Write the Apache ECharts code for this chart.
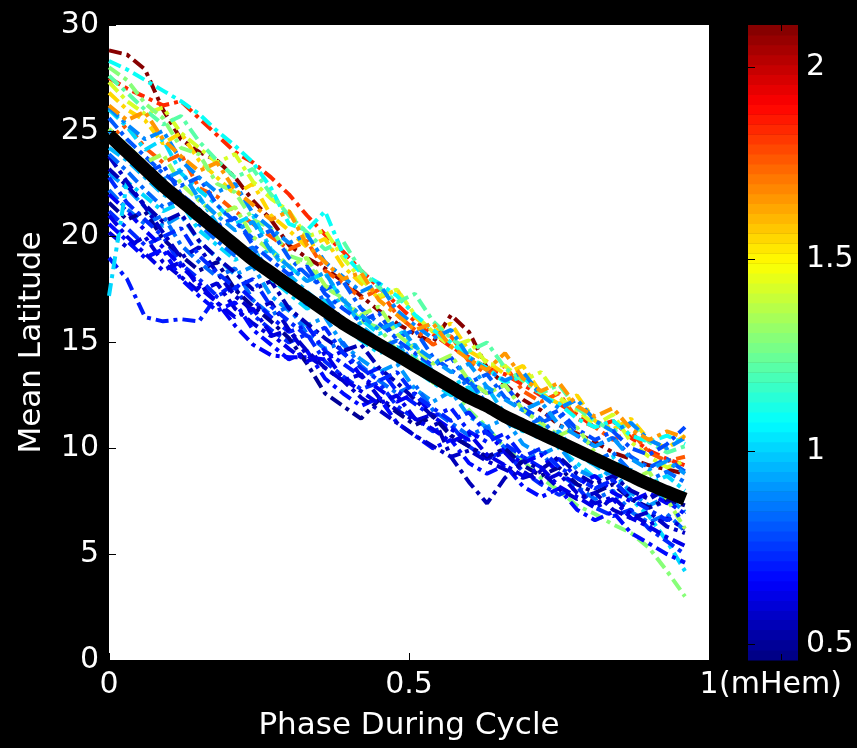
<!DOCTYPE html>
<html>
<head>
<meta charset="utf-8">
<title>Mean Latitude vs Phase During Cycle</title>
<script src="https://cdn.jsdelivr.net/npm/echarts@6/dist/echarts.min.js"></script>
<style>
  html, body { margin: 0; padding: 0; background: #000; }
  #chart { width: 857px; height: 748px; }
</style>
</head>
<body>
<div id="chart"></div>
<script>
const FONT = "DejaVu Sans";

// phase of the cycle (shared x for every curve)
const phase = [0, 0.03, 0.06, 0.09, 0.12, 0.15, 0.18, 0.21, 0.24, 0.27, 0.30,
  0.33, 0.36, 0.39, 0.42, 0.45, 0.48, 0.51, 0.54, 0.57, 0.60, 0.63,
  0.66, 0.69, 0.72, 0.75, 0.78, 0.81, 0.84, 0.87, 0.90, 0.93, 0.96];

// black fitted curve
const fitLat = [24.8, 24.0, 23.2, 22.4, 21.7, 21.0, 20.3, 19.6, 18.9, 18.3, 17.7,
  17.1, 16.5, 15.9, 15.4, 14.9, 14.4, 13.9, 13.4, 12.9, 12.4, 12.0,
  11.5, 11.1, 10.7, 10.3, 9.9, 9.5, 9.1, 8.7, 8.3, 7.95, 7.6];

// cycle amplitudes (mHem), one per curve below
const cycleAmp = [2.10, 1.85, 1.75, 1.55, 1.42, 1.30, 1.10, 1.02, 1.22, 0.95,
  0.90, 0.84, 0.80, 0.74, 0.70, 0.64, 0.60, 0.55, 0.50, 0.88,
  1.00, 0.78, 1.65, 0.68, 1.35, 0.58, 0.92, 0.72, 0.82, 0.62];

const cyc01 = [28.8, 28.6, 27.9, 26.0, 24.6, 24.0, 23.6, 22.8, 21.7, 20.8, 19.6,
  19.0, 18.5, 17.9, 17.2, 16.5, 15.9, 15.4, 15.0, 16.3, 15.5, 13.8,
  13.0, 12.3, 11.8, 11.1, 10.7, 10.3, 9.8, 9.5, 9.2, 9.0, 8.8];
const cyc02 = [27.5, 27.0, 26.6, 26.2, 26.4, 25.6, 24.8, 24.0, 23.5, 22.8, 22.0,
  21.0, 20.1, 19.3, 18.4, 17.6, 16.8, 16.0, 15.4, 14.8, 14.3, 13.8,
  13.5, 13.0, 12.5, 12.1, 11.6, 11.0, 11.3, 10.5, 9.9, 9.5, 9.2];
const cyc03 = [24.6, 25.3, 24.2, 23.5, 23.9, 22.3, 21.9, 21.2, 20.6, 20.0, 19.4,
  19.8, 18.4, 17.8, 17.1, 17.5, 16.3, 15.6, 14.9, 15.3, 14.1, 13.5,
  13.9, 12.7, 12.2, 12.6, 11.4, 11.0, 10.4, 10.8, 9.8, 9.4, 9.6];
const cyc04 = [26.8, 26.0, 25.5, 24.4, 24.9, 23.6, 22.8, 22.0, 22.5, 21.0, 20.3,
  19.5, 19.9, 18.6, 17.8, 17.1, 17.5, 16.2, 15.5, 15.9, 14.6, 14.1,
  13.5, 13.9, 12.6, 12.1, 12.5, 11.3, 10.9, 11.4, 10.4, 10.0, 10.6];
const cyc05 = [27.3, 26.4, 25.8, 26.1, 24.9, 24.2, 23.5, 23.9, 22.6, 21.8, 21.2,
  20.0, 20.3, 19.0, 18.0, 17.2, 17.5, 16.3, 15.5, 14.8, 15.1, 14.0,
  13.9, 13.2, 13.6, 12.4, 11.8, 11.1, 11.6, 10.3, 9.6, 9.1, 9.4];
const cyc06 = [28.0, 27.4, 26.3, 25.6, 24.2, 23.9, 22.5, 22.1, 20.8, 20.4, 19.1,
  18.8, 17.6, 17.1, 16.0, 15.7, 14.6, 14.3, 13.1, 12.8, 11.8, 11.0,
  10.0, 9.4, 8.6, 8.0, 7.3, 6.9, 6.4, 6.0, 5.3, 4.2, 3.0];
const cyc07 = [28.3, 27.9, 27.4, 26.9, 26.4, 25.8, 25.0, 24.3, 23.5, 22.3, 20.6,
  20.3, 21.2, 19.2, 18.3, 17.8, 17.2, 16.3, 15.6, 15.0, 14.3, 13.8,
  13.1, 13.4, 12.5, 12.1, 11.4, 11.0, 11.3, 10.6, 10.3, 10.6, 10.2];
const cyc08 = [26.0, 25.2, 24.1, 24.6, 23.0, 22.2, 21.5, 20.6, 21.0, 19.4, 18.6,
  17.9, 18.3, 16.9, 16.1, 15.4, 15.8, 14.4, 13.6, 13.0, 13.3, 12.0,
  11.4, 10.8, 11.1, 10.0, 9.3, 8.6, 8.9, 7.6, 6.8, 5.6, 4.2];
const cyc09 = [27.6, 26.8, 26.0, 25.3, 25.7, 24.5, 23.6, 22.8, 23.2, 22.0, 21.0,
  20.2, 19.4, 19.8, 18.4, 17.6, 16.9, 17.3, 16.0, 15.2, 14.6, 15.0,
  13.8, 13.2, 12.6, 13.0, 11.9, 11.3, 10.8, 11.2, 10.3, 9.8, 10.1];
const cyc10 = [24.2, 23.6, 22.8, 22.0, 21.5, 21.9, 20.6, 19.8, 19.0, 19.4, 18.2,
  17.4, 16.7, 17.1, 15.8, 15.1, 14.5, 14.9, 13.6, 13.0, 12.5, 12.9,
  11.6, 11.0, 10.4, 10.8, 9.7, 9.2, 8.6, 9.0, 8.1, 7.6, 7.9];
const cyc11 = [23.0, 22.3, 21.4, 20.5, 21.0, 19.8, 19.0, 18.2, 18.6, 17.2, 16.5,
  15.8, 16.2, 14.9, 14.2, 13.6, 14.0, 12.8, 12.2, 12.7, 11.5, 11.0,
  11.4, 10.2, 9.7, 10.1, 9.0, 8.6, 8.9, 7.9, 7.3, 7.7, 7.0];
const cyc12 = [22.2, 21.3, 20.6, 21.0, 19.6, 18.8, 18.1, 18.5, 17.0, 16.3, 16.7,
  15.4, 14.7, 15.0, 13.9, 13.2, 12.6, 13.0, 11.8, 11.2, 10.6, 11.0,
  10.0, 9.4, 9.8, 8.8, 8.2, 7.6, 8.0, 7.0, 6.5, 6.9, 6.1];
const cyc13 = [25.6, 24.6, 23.8, 23.0, 22.4, 22.8, 21.5, 20.7, 19.9, 20.3, 19.0,
  18.2, 17.5, 17.9, 16.6, 15.9, 15.2, 15.6, 14.3, 13.7, 13.1, 13.5,
  12.4, 11.8, 11.2, 11.6, 10.6, 10.1, 10.5, 9.6, 9.1, 9.5, 8.9];
const cyc14 = [21.2, 20.4, 19.6, 20.0, 18.7, 18.0, 17.2, 17.6, 16.3, 15.6, 15.0,
  15.4, 14.1, 13.4, 12.8, 13.1, 12.0, 11.4, 10.8, 11.1, 10.1, 9.5,
  9.9, 8.9, 8.3, 7.8, 8.2, 7.2, 6.8, 7.1, 6.2, 5.6, 5.0];
const cyc15 = [19.0, 18.0, 16.2, 16.0, 16.1, 16.0, 17.2, 17.8, 17.0, 16.2, 15.5,
  15.8, 14.6, 14.0, 13.4, 13.8, 12.7, 12.1, 11.5, 11.9, 10.8, 10.3,
  10.7, 9.6, 9.1, 9.5, 8.6, 8.1, 8.5, 7.6, 7.2, 7.5, 6.9];
const cyc16 = [22.0, 21.2, 20.3, 19.5, 18.6, 17.8, 16.9, 15.8, 14.9, 14.4, 14.3,
  14.3, 14.2, 14.6, 13.4, 12.8, 12.2, 12.6, 11.5, 10.9, 10.4, 10.8,
  9.8, 9.3, 9.7, 8.8, 8.3, 8.7, 7.9, 7.5, 7.9, 7.4, 7.8];
const cyc17 = [20.2, 19.5, 20.0, 18.8, 18.1, 17.4, 17.8, 16.6, 15.9, 15.3, 15.6,
  14.4, 13.8, 13.2, 13.5, 12.4, 11.8, 11.3, 11.6, 10.6, 10.1, 9.5,
  9.8, 8.9, 8.4, 8.8, 7.9, 7.4, 7.7, 6.9, 6.4, 6.7, 6.2];
const cyc18 = [23.2, 22.4, 21.5, 20.7, 21.1, 19.8, 19.0, 18.3, 17.5, 17.9, 16.6,
  15.9, 15.2, 14.6, 14.9, 13.8, 13.1, 12.3, 11.5, 9.6, 8.4, 7.4,
  8.6, 9.4, 9.0, 9.6, 8.8, 8.3, 8.7, 8.0, 7.6, 8.1, 7.7];
const cyc19 = [21.6, 20.8, 21.2, 19.9, 19.1, 18.4, 18.8, 17.5, 16.7, 16.0, 15.2,
  14.0, 12.6, 12.0, 11.4, 12.3, 11.7, 11.1, 11.5, 10.6, 10.1, 9.6,
  10.0, 9.2, 8.7, 9.1, 8.3, 7.9, 8.3, 7.6, 7.2, 7.6, 7.3];
const cyc20 = [26.1, 25.3, 24.6, 25.0, 23.6, 22.8, 22.1, 22.5, 21.1, 20.4, 19.7,
  20.1, 18.8, 18.1, 17.4, 17.8, 16.5, 15.8, 15.2, 15.6, 14.3, 13.7,
  13.2, 13.6, 12.5, 11.9, 12.3, 11.3, 10.8, 11.2, 10.4, 10.0, 10.5];
const cyc21 = [17.2, 22.6, 21.9, 21.2, 21.6, 20.3, 19.6, 18.9, 19.3, 18.0, 17.3,
  16.6, 17.0, 15.7, 15.1, 14.5, 14.8, 13.7, 13.1, 12.5, 12.9, 11.8,
  11.3, 10.8, 11.1, 10.2, 9.7, 9.2, 9.6, 8.7, 8.3, 8.7, 8.0];
const cyc22 = [24.6, 23.8, 23.0, 23.4, 22.0, 21.3, 20.5, 20.9, 19.6, 18.9, 18.2,
  18.6, 17.3, 16.6, 16.0, 16.4, 15.1, 14.5, 13.9, 14.3, 13.1, 12.6,
  13.0, 11.9, 11.4, 11.8, 10.9, 10.4, 10.8, 10.0, 9.7, 10.2, 11.0];
const cyc23 = [26.2, 25.5, 25.9, 24.6, 23.8, 23.1, 23.5, 22.2, 21.5, 20.8, 21.2,
  19.6, 18.8, 18.0, 18.3, 17.0, 16.3, 15.6, 15.9, 14.8, 14.2, 13.7,
  14.5, 13.3, 12.7, 13.1, 12.0, 11.5, 11.9, 10.9, 10.4, 10.8, 10.5];
const cyc24 = [20.6, 19.8, 19.0, 19.4, 18.0, 17.2, 16.5, 16.9, 15.6, 14.9, 14.2,
  14.6, 13.3, 12.6, 12.0, 12.4, 11.2, 10.6, 10.0, 10.4, 9.3, 8.8,
  9.2, 8.2, 7.7, 8.1, 7.1, 6.6, 7.0, 6.0, 5.5, 5.0, 4.6];
const cyc25 = [25.1, 24.3, 23.5, 23.9, 22.5, 21.7, 21.0, 21.4, 20.0, 19.3, 18.6,
  19.0, 17.7, 17.0, 16.3, 16.7, 15.4, 14.7, 14.0, 14.4, 13.2, 12.6,
  13.0, 11.8, 11.2, 10.6, 11.0, 9.8, 9.2, 8.5, 8.9, 7.6, 6.2];
const cyc26 = [23.8, 22.6, 21.4, 20.2, 19.0, 19.5, 18.3, 17.2, 16.5, 16.9, 15.6,
  14.6, 13.8, 13.2, 12.4, 11.8, 11.2, 10.6, 10.1, 9.6, 9.9, 9.4,
  9.0, 8.6, 8.9, 8.1, 7.6, 7.9, 7.1, 6.7, 7.0, 6.3, 6.0];
const cyc27 = [25.0, 24.2, 23.4, 22.7, 23.1, 21.8, 21.0, 20.3, 20.7, 19.3, 18.6,
  17.9, 18.3, 17.0, 16.3, 15.6, 16.0, 14.8, 14.2, 13.6, 14.0, 12.9,
  12.3, 11.8, 12.2, 11.1, 10.6, 10.1, 10.5, 9.5, 9.0, 9.4, 8.8];
const cyc28 = [22.8, 21.6, 20.8, 20.0, 20.4, 19.1, 18.3, 17.6, 18.0, 16.7, 16.0,
  15.3, 15.7, 14.5, 13.8, 13.2, 13.6, 12.5, 11.9, 11.3, 11.7, 10.7,
  10.2, 9.6, 10.0, 9.1, 8.6, 8.1, 8.5, 7.6, 7.1, 6.6, 7.0];
const cyc29 = [23.9, 23.1, 22.2, 21.4, 21.8, 20.6, 19.8, 19.1, 19.5, 18.2, 17.5,
  16.8, 17.2, 16.0, 15.3, 14.7, 15.1, 13.9, 13.3, 12.8, 13.2, 12.1,
  11.6, 11.0, 11.4, 10.4, 9.9, 9.4, 9.8, 8.9, 8.5, 8.9, 8.4];
const cyc30 = [21.0, 20.0, 19.2, 18.4, 18.8, 17.6, 16.9, 16.2, 16.6, 15.4, 14.7,
  14.1, 14.5, 13.3, 12.7, 12.1, 12.5, 11.4, 10.9, 10.3, 10.7, 9.7,
  9.2, 8.7, 9.1, 8.2, 7.7, 7.2, 7.6, 6.7, 6.3, 5.8, 5.4];

const cycles = [cyc01, cyc02, cyc03, cyc04, cyc05, cyc06, cyc07, cyc08, cyc09, cyc10,
  cyc11, cyc12, cyc13, cyc14, cyc15, cyc16, cyc17, cyc18, cyc19, cyc20,
  cyc21, cyc22, cyc23, cyc24, cyc25, cyc26, cyc27, cyc28, cyc29, cyc30];

// axis ticks
const phaseTicks = [0, 0.5, 1];
const latTicks = [0, 5, 10, 15, 20, 25, 30];
const ampTicks = [0.5, 1, 1.5, 2];
const ampRange = [0.458, 2.109];
const nLevels = 64;

// jet colormap
function jet(v) {
  const c = x => Math.round(255 * Math.max(0, Math.min(1, x)));
  return "rgb(" + c(Math.min(4 * v - 1.5, -4 * v + 4.5)) + "," +
    c(Math.min(4 * v - 0.5, -4 * v + 3.5)) + "," +
    c(Math.min(4 * v + 0.5, -4 * v + 2.5)) + ")";
}
function ampColor(a) {
  let k = Math.floor((a - ampRange[0]) / (ampRange[1] - ampRange[0]) * nLevels);
  k = Math.max(0, Math.min(nLevels - 1, k));
  return jet((k + 0.5) / nLevels);
}

const step = (ampRange[1] - ampRange[0]) / nLevels;
const bands = [];
for (let k = 0; k < nLevels; k++) {
  bands.push([ampRange[0] + k * step, ampRange[0] + (k + 1) * step]);
}

const chart = echarts.init(document.getElementById("chart"));

const tickStyle = { inside: true, length: 7, lineStyle: { color: "#000", width: 1 } };
const labelStyle = { color: "#fff", fontSize: 30, fontFamily: FONT };

const series = cycles.map((lat, i) => ({
  type: "line",
  xAxisIndex: 0,
  yAxisIndex: 0,
  data: phase.map((p, j) => [p, lat[j]]),
  showSymbol: false,
  symbol: "none",
  silent: true,
  lineStyle: { color: ampColor(cycleAmp[i]), width: 4, type: [13, 5, 4, 5] },
  z: 2
}));

series.push({
  type: "line",
  xAxisIndex: 0,
  yAxisIndex: 0,
  data: phase.map((p, j) => [p, fitLat[j]]),
  showSymbol: false,
  symbol: "none",
  silent: true,
  smooth: 0.3,
  lineStyle: { color: "#000", width: 13 },
  z: 3
});

// colorbar
series.push({
  type: "custom",
  xAxisIndex: 2,
  yAxisIndex: 2,
  silent: true,
  z: 1,
  data: bands,
  encode: { y: [0, 1] },
  renderItem: (params, api) => {
    const p0 = api.coord([0, api.value(0)]);
    const p1 = api.coord([1, api.value(1)]);
    return {
      type: "rect",
      shape: { x: p0[0], y: p1[1], width: p1[0] - p0[0], height: p0[1] - p1[1] + 0.5 },
      style: { fill: jet((params.dataIndex + 0.5) / nLevels) }
    };
  }
});

const option = {
  backgroundColor: "#000",
  animation: false,
  grid: [
    { left: 109, top: 25, width: 600, height: 635, show: true, backgroundColor: "#fff", borderWidth: 0 },
    { left: 748, top: 25, width: 50, height: 635 }
  ],
  xAxis: [
    {
      gridIndex: 0, type: "value", min: 0, max: 1, interval: 0.5, position: "bottom",
      axisLine: { show: false }, axisTick: tickStyle, splitLine: { show: false },
      axisLabel: Object.assign({ margin: 10, customValues: phaseTicks }, labelStyle),
      name: "Phase During Cycle", nameLocation: "middle", nameGap: 50,
      nameTextStyle: { color: "#fff", fontSize: 31, fontFamily: FONT },
      z: 5
    },
    {
      gridIndex: 0, type: "value", min: 0, max: 1, interval: 0.5, position: "top",
      axisLine: { show: false }, axisTick: tickStyle, splitLine: { show: false },
      axisLabel: { show: false }, z: 5
    },
    {
      gridIndex: 1, type: "value", min: 0, max: 1, position: "bottom",
      axisLine: { show: false }, splitLine: { show: false }, axisLabel: { show: false },
      axisTick: { inside: true, length: 6, customValues: [0.66], lineStyle: { color: "#000" } }, z: 5
    },
    {
      gridIndex: 1, type: "value", min: 0, max: 1, position: "top",
      axisLine: { show: false }, splitLine: { show: false }, axisLabel: { show: false },
      axisTick: { inside: true, length: 6, customValues: [0.66], lineStyle: { color: "#000" } }, z: 5
    }
  ],
  yAxis: [
    {
      gridIndex: 0, type: "value", min: 0, max: 30, interval: 5, position: "left",
      axisLine: { show: false }, axisTick: tickStyle, splitLine: { show: false },
      axisLabel: Object.assign({ margin: 10, customValues: latTicks }, labelStyle),
      name: "Mean Latitude", nameLocation: "middle", nameGap: 62, nameRotate: 90,
      nameTextStyle: { color: "#fff", fontSize: 31, fontFamily: FONT },
      z: 5
    },
    {
      gridIndex: 0, type: "value", min: 0, max: 30, interval: 5, position: "right",
      axisLine: { show: false }, axisTick: tickStyle, splitLine: { show: false },
      axisLabel: { show: false }, z: 5
    },
    {
      gridIndex: 1, type: "value", min: ampRange[0], max: ampRange[1], position: "right",
      axisLine: { show: false }, splitLine: { show: false },
      axisTick: { inside: true, length: 7, customValues: ampTicks, lineStyle: { color: "#000" } },
      axisLabel: Object.assign({ margin: 8, customValues: ampTicks }, labelStyle),
      z: 5
    },
    {
      gridIndex: 1, type: "value", min: ampRange[0], max: ampRange[1], position: "left",
      axisLine: { show: false }, splitLine: { show: false },
      axisTick: { inside: true, length: 7, customValues: ampTicks, lineStyle: { color: "#000" } },
      axisLabel: { show: false }, z: 5
    }
  ],
  graphic: [
    {
      type: "text", left: 719, top: 670, silent: true,
      style: { text: "(mHem)", fill: "#fff", font: "30px '" + FONT + "'" }
    }
  ],
  series: series
};

chart.setOption(option);
</script>
</body>
</html>
